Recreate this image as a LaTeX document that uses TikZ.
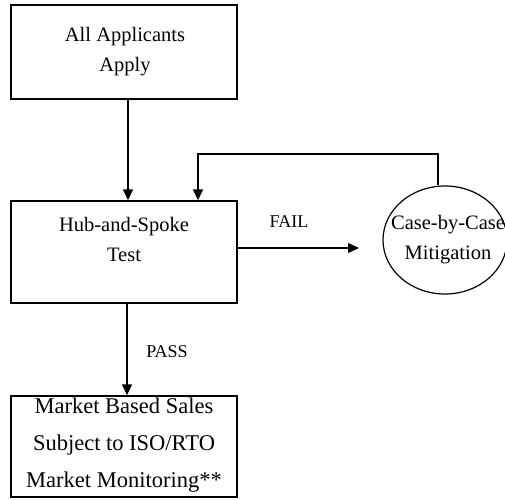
\documentclass[tikz,border=0pt]{standalone}
\usepackage{fontspec}
\setmainfont{Liberation Serif}
\usetikzlibrary{arrows.meta,shapes.geometric,calc}

\tikzset{
  flowbox/.style={draw, line width=1.4pt, rectangle, minimum width=226pt, inner sep=0pt},
  boxtext/.style={align=center, inner sep=0pt, font=\fontsize{20.5pt}{30pt}\selectfont},
  bigtext/.style={align=center, inner sep=0pt, font=\fontsize{22.5pt}{37pt}\selectfont},
  oval/.style={draw, line width=1.2pt, ellipse, minimum width=124pt, minimum height=108pt, inner sep=0pt},
  edgelabel/.style={inner sep=0pt, font=\fontsize{18pt}{20pt}\selectfont},
  arr/.style={line width=1.4pt, -{Triangle[length=11pt, width=10pt]}}
}

\begin{document}
\begin{tikzpicture}[x=1pt, y=1pt]
  \useasboundingbox (0,0) rectangle (505,499);

  % boxes
  \node[flowbox, minimum height=94pt]  (apply)  at (124,447)   {};
  \node[flowbox, minimum height=102pt] (hub)    at (124,247)   {};
  \node[flowbox, minimum height=101pt] (market) at (124,52.5)  {};
  \node[oval] (mit) at (445,259) {};

  % box texts
  \node[boxtext] (applytxt)  at (125,447) {All Applicants\\Apply};
  \node[boxtext] (hubtxt)    at (124,260) {Hub-and-Spoke\\Test};
  \node[bigtext] (markettxt) at (124,54)  {Market Based Sales\\Subject to ISO/RTO\\Market Monitoring**};
  \node[boxtext] (mittxt)    at (448,259) {Case-by-Case\\Mitigation};

  % connector end points
  \coordinate (failend) at (359,251);
  \coordinate (mittop)  at ($(mit.north)+(-7,0)$);
  \coordinate (loop)    at (198,345);

  % connectors
  \draw[arr] (apply.south -| 128,0) -- (hub.north -| 128,0);
  \draw[arr] (hub.east |- failend) -- (failend);
  \draw[arr] (mittop) |- (loop) -- (hub.north -| loop);
  \draw[arr] (hub.south -| 127,0) -- (market.north -| 127,0);

  % edge labels
  \node[edgelabel] (fail) at (289,277) {FAIL};
  \node[edgelabel] (pass) at (167,147) {PASS};
\end{tikzpicture}
\end{document}
